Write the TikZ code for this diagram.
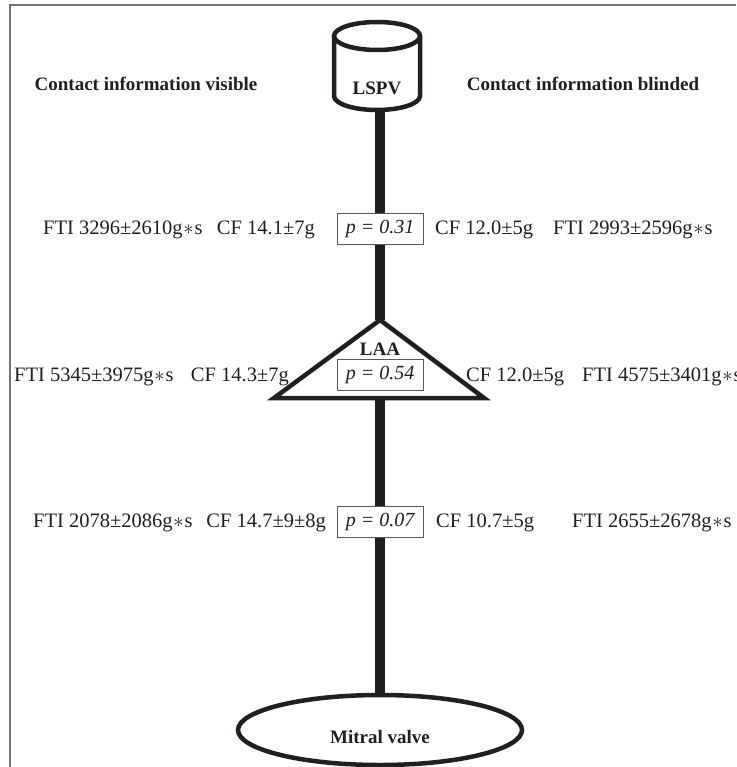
\documentclass[tikz,border=0pt]{standalone}
\usepackage{fontspec}
\setmainfont{Liberation Serif}
\usetikzlibrary{shapes.geometric}
\definecolor{dark}{RGB}{35,31,32}
\newcommand{\gs}{g\kern0.8pt$\ast$\kern0.8pt s}
\begin{document}
\begin{tikzpicture}[x=1pt,y=1pt,
 lbl/.style={font=\fontsize{20.5}{22}\selectfont, inner sep=0pt, anchor=west, text=dark},
 lblr/.style={lbl, anchor=east},
 head/.style={font=\fontsize{19}{21}\selectfont\bfseries, inner sep=0pt, text=dark},
 pbox/.style={draw=black!65, line width=0.8pt, fill=white, minimum width=86pt, minimum height=31pt, inner sep=0pt, font=\fontsize{20}{22}\selectfont\itshape, text=dark},
 outline/.style={draw=dark, line width=4.5pt, line join=miter},
 stem/.style={draw=dark, line width=10pt}]
\useasboundingbox (0,0) rectangle (736,-767);
\draw[black!55, line width=1.5pt] (10,-767) -- (10,-5) -- (736,-5);
% stems (drawn first, under boxes)
\coordinate (lspvbot) at (380,-108);
\coordinate (laatop) at (380,-320);
\coordinate (laabot) at (380,-398);
\node[ellipse, minimum width=284pt, minimum height=70pt, inner sep=0pt] (mv) at (380,-730) {};
\draw[stem] (lspvbot) -- (laatop);
\draw[stem] (laabot) -- (mv.north);
% LSPV cylinder
\node[minimum width=86pt, minimum height=88pt, inner sep=0pt] (lspv) at (377,-66) {};
\fill[white] (334,-36) -- (334,-96) arc[start angle=180,end angle=360,x radius=43,y radius=14] -- (420,-36) -- cycle;
\draw[outline] (334,-36) -- (334,-96) arc[start angle=180,end angle=360,x radius=43,y radius=14] -- (420,-36);
\draw[outline] (377,-36) ellipse[x radius=43,y radius=14];
\node[head] (lspvt) at (377,-88) {LSPV};
% LAA triangle
\draw[outline, fill=white] (laatop) -- (274,-398) -- (484,-398) -- cycle;
\node[head] (laat) at (380,-349) {LAA};
% Mitral valve
\draw[outline, fill=white] (mv.center) ellipse[x radius=142, y radius=35];
\node[head] (mvt) at (380,-737) {Mitral valve};
% headings
\node[head] (hv) at (146,-84) {Contact information visible};
\node[head] (hb) at (583,-84) {Contact information blinded};
% p boxes
\node[pbox] (p1) at (380,-229) {p = 0.31};
\node[pbox] (p2) at (380,-375) {p = 0.54};
\node[pbox] (p3) at (380,-522) {p = 0.07};
% row 1
\node[lbl] (a1) at (43,-230) {FTI 3296±2610\gs};
\node[lblr] (b1) at (315,-230) {CF 14.1±7g};
\node[lbl] (c1) at (435,-230) {CF 12.0±5g};
\node[lbl] (d1) at (553,-230) {FTI 2993±2596\gs};
% row 2
\node[lbl] (a2) at (14,-377) {FTI 5345±3975\gs};
\node[lblr] (b2) at (289,-377) {CF 14.3±7g};
\node[lbl] (c2) at (466,-377) {CF 12.0±5g};
\node[lbl] (d2) at (582,-377) {FTI 4575±3401\gs};
% row 3
\node[lbl] (a3) at (33,-523) {FTI 2078±2086\gs};
\node[lblr] (b3) at (326,-523) {CF 14.7±9±8g};
\node[lbl] (c3) at (436,-523) {CF 10.7±5g};
\node[lbl] (d3) at (572,-523) {FTI 2655±2678\gs};
\end{tikzpicture}
\end{document}
